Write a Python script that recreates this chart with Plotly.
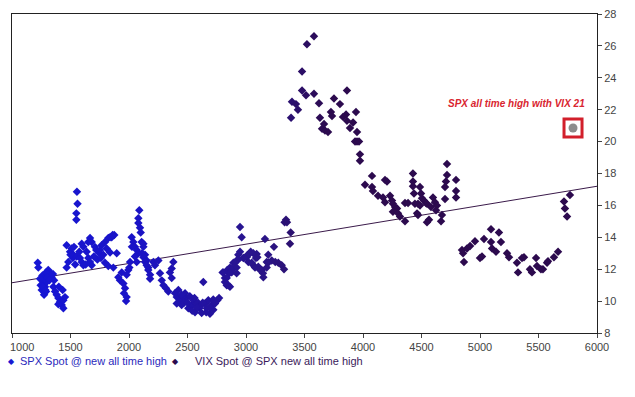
import plotly.graph_objects as go

# SPX level at new all-time high (x) and VIX spot at that time (y)
spx_level = [
    1220, 1225, 1254, 1268, 1282, 1254, 1296, 1310, 1330, 1339, 1274, 1291, 1353, 1368, 1382, 1396,
    1410, 1425, 1439, 1453, 1439, 1396, 1433, 1260, 1275, 1290, 1245, 1262, 1300, 1320, 1240, 1285,
    1350, 1360, 1400,
    1555, 1560, 1550, 1550,
    1467, 1481, 1496, 1510, 1524, 1520, 1553, 1581, 1596, 1610, 1596, 1610, 1652, 1667, 1681, 1667,
    1681, 1709, 1720, 1746, 1766, 1795, 1823, 1852, 1874, 1809, 1838, 1780, 1795, 1823, 1866, 1895,
    1467, 1638, 1500, 1530, 1540, 1575, 1630, 1700, 1730, 1760, 1652, 1752, 1838, 1860,
    1923, 1909, 1938, 1952, 1966, 1957, 1980, 1994, 1980, 2003, 2009, 1975,
    2023, 2037, 2051, 2066, 2080, 2025, 2051, 2066, 2088, 2080, 2080, 2094, 2100, 2108, 2123, 2137,
    2151, 2165,
    2123, 2110, 2123, 2137, 2151, 2165, 2180, 2180, 2208, 2222, 2251, 2265, 2280, 2294, 2316, 2336,
    2350, 2365, 2365, 2379, 2393, 2408, 2422, 2436, 2408, 2450, 2479, 2490, 2507, 2536, 2550, 2564,
    2578, 2601, 2621, 2635, 2650, 2664, 2678, 2692, 2706, 2721, 2735, 2755, 2770,
    2460, 2470, 2520, 2540, 2560, 2590, 2610, 2630, 2660, 2690, 2720, 2500, 2450, 2580,
    2800, 2820, 2835, 2840, 2863, 2878, 2892, 2920, 2934, 2949, 2949, 2963, 2920, 2977, 3006, 3020,
    3034, 3063, 3085, 3105, 3134, 3162, 3177, 3190,
    3342, 3330, 3350, 3382, 3376, 3239, 3220, 3250, 3276, 3305, 3325, 3190, 3177, 3148, 3145, 3120,
    3091, 3063, 3040, 3006, 2983, 3049, 3077, 3097, 2934, 2906, 2892, 2920, 2878, 2857, 2835, 2820,
    2849, 2806, 2863,
    3581, 3521, 3479, 3479, 3513, 3581, 3393, 3427, 3444, 3385, 3624, 3632, 3752, 3863, 3803, 3726,
    3735, 3650, 3675, 3701, 3667, 3829, 3855, 3863, 3940, 3889, 3915, 3949, 3949, 3974,
    3932, 3966, 3974, 4077, 4017, 4077, 4085, 4128, 4171, 4188, 4205, 4188, 4231, 4248, 4256, 4274,
    4291, 4256, 4299, 4316, 4359, 4359, 4385, 4427, 4427, 4427, 4487, 4436, 4496, 4444, 4470, 4504,
    4521, 4538, 4547, 4462, 4470, 4487, 4547, 4564, 4581, 4598, 4615, 4632, 4624, 4667, 4675, 4701,
    4701, 4709, 4718, 4718, 4795, 4795, 4795,
    4846, 4855, 4863, 4889, 4915, 4957, 5000, 5017, 5034, 5094, 5094, 5103, 5137, 5162, 5179, 5231,
    5248, 5316, 5325, 5359, 5376, 5427, 5444, 5479, 5487, 5521, 5538, 5573, 5581, 5632, 5667, 5718,
    5726, 5744, 5769,
]
vix_level = [
    12.4, 12.1, 11.32, 11.1, 10.9, 10.7, 11.2, 11.95, 11.75, 11.5, 10.4, 10.6, 10.9, 10.6, 10.4, 10.2,
    9.95, 9.75, 10.05, 10.25, 9.55, 9.8, 10.7, 11.6, 11.4, 11.8, 11.0, 10.9, 11.5, 11.3, 11.4, 10.7,
    11.7, 11.3, 10.9,
    16.85, 16.1, 15.5, 15.1,
    12.1, 12.45, 13.1, 13.3, 12.9, 12.7, 12.8, 12.7, 12.45, 12.25, 13.6, 13.4, 12.7, 12.45, 12.25, 13.95,
    13.7, 13.4, 13.2, 13.0, 13.5, 13.7, 13.95, 14.0, 14.15, 13.3, 13.05, 12.9, 12.4, 12.2, 12.1, 13.0,
    13.5, 13.1, 12.9, 13.4, 12.3, 13.1, 12.3, 12.8, 12.6, 12.7, 13.7, 13.2, 14.0, 14.15,
    11.3, 11.5, 11.8, 11.1, 10.8, 10.5, 10.25, 11.95, 11.65, 12.1, 12.45, 10.0,
    14.0, 13.7, 13.4, 13.2, 13.0, 13.4, 12.8, 12.45, 15.7, 15.2, 14.9, 14.6, 14.3, 13.7, 13.4, 12.9,
    12.55, 12.1,
    13.6, 13.0, 12.75, 12.45, 12.25, 11.95, 11.65, 11.4, 12.45, 12.25, 12.55, 11.75, 11.3, 11.0, 10.8, 10.6,
    11.8, 12.05, 11.45, 12.45, 10.5, 10.25, 10.7, 10.05, 9.85, 9.75, 10.5, 10.2, 9.55, 9.75, 10.05, 9.3,
    9.85, 9.55, 9.25, 11.2, 9.85, 9.55, 10.05, 9.2, 9.75, 9.45, 9.85, 10.05, 10.2,
    10.3, 9.9, 10.3, 9.4, 10.2, 9.9, 9.7, 9.9, 9.3, 9.6, 10.1, 9.9, 10.4, 9.6,
    11.8, 11.45, 11.0, 11.95, 12.1, 11.8, 12.4, 12.55, 12.9, 13.1, 14.65, 14.0, 11.75, 12.7, 12.75, 12.45,
    13.0, 12.25, 12.7, 12.15, 11.95, 13.9, 12.45, 12.9,
    15.1, 14.95, 14.95, 14.3, 13.6, 13.4, 12.55, 12.45, 12.4, 12.25, 12.0, 12.4, 12.1, 11.5, 11.75, 11.95,
    12.95, 13.0, 13.1, 12.85, 12.7, 12.4, 12.1, 12.75, 12.6, 12.4, 12.1, 12.1, 11.95, 11.75, 11.45, 11.2,
    11.0, 11.8, 10.9,
    26.6, 26.1, 24.4, 23.2, 22.9, 23.0, 22.5, 22.35, 22.0, 21.5, 22.4, 21.5, 22.7, 23.2, 22.35, 21.85,
    21.6, 20.8, 20.7, 20.6, 21.1, 21.55, 21.7, 21.3, 21.85, 20.85, 21.2, 20.6, 20.0, 19.2,
    20.0, 20.0, 18.8, 17.85, 17.3, 17.15, 16.9, 16.6, 16.5, 17.6, 17.5, 16.2, 16.6, 16.3, 16.1, 15.9,
    15.8, 15.6, 15.5, 15.3, 15.0, 16.15, 16.15, 18.0, 17.5, 17.2, 17.15, 16.75, 16.75, 16.1, 16.1, 16.45,
    16.3, 16.15, 16.1, 15.5, 15.4, 16.0, 14.95, 15.1, 15.9, 16.5, 16.2, 16.0, 15.7, 15.0, 15.4, 16.4,
    17.15, 17.5, 17.9, 18.6, 17.6, 16.9, 16.5,
    13.2, 13.0, 12.45, 13.3, 13.45, 13.75, 12.7, 12.8, 13.9, 14.5, 13.7, 13.3, 13.1, 14.3, 13.7, 13.0,
    12.75, 12.4, 11.8, 12.7, 12.75, 12.0, 11.8, 12.7, 12.2, 12.0, 12.0, 12.4, 12.5, 12.75, 13.1, 16.25,
    15.8, 15.3, 16.65,
]

trend_x = [1000, 6000]
trend_y = [11.15, 17.2]

highlight_x = [5795]
highlight_y = [20.85]
highlight_label = "SPX all time high with VIX 21"
label_x = [5308]
label_y = [22.4]

legend_names = ["SPX Spot @ new all time high", "VIX Spot @ SPX new all time high"]
legend_colors = ["#2a2abc", "#3a1a5a"]
marker_colors = ["#1818d2", "#2c0a4e"]
x_ticks = [1000, 1500, 2000, 2500, 3000, 3500, 4000, 4500, 5000, 5500, 6000]
y_ticks = [8, 10, 12, 14, 16, 18, 20, 22, 24, 26, 28]

fig = go.Figure()

fig.add_trace(go.Scatter(
    x=trend_x, y=trend_y, mode="lines",
    line=dict(color="#3a1a4a", width=1), showlegend=False, hoverinfo="skip"))

fig.add_trace(go.Scatter(
    x=spx_level, y=vix_level, mode="markers", showlegend=False,
    name="SPX ATH vs VIX",
    marker=dict(symbol="diamond", size=6.5, color=spx_level, cmin=1200, cmax=3700,
                colorscale=[[0, "#1616d4"], [0.35, "#1a13c6"], [0.55, "#2213a4"],
                            [0.8, "#2b1484"], [1, "#2c0a4e"]],
                line=dict(width=0))))

fig.add_trace(go.Scatter(
    x=highlight_x, y=highlight_y, mode="markers", showlegend=False,
    marker=dict(symbol="circle", size=9, color="#8c8c8c")))
fig.add_trace(go.Scatter(
    x=highlight_x, y=highlight_y, mode="markers", showlegend=False,
    marker=dict(symbol="square-open", size=18, color="#d21f2b",
                line=dict(width=3, color="#d21f2b"))))

fig.add_annotation(
    x=label_x[0], y=label_y[0], text="<b><i>" + highlight_label + "</i></b>",
    showarrow=False, font=dict(family="Liberation Sans", size=10, color="#d9252f"))

# first x tick label placed as annotation so it stays inside the page edge
tick_text = ["" if v == x_ticks[0] else str(v) for v in x_ticks]
fig.add_annotation(
    xref="paper", yref="paper", x=0, y=-0.044, xanchor="left", yanchor="middle",
    xshift=-4, text=str(x_ticks[0]), showarrow=False,
    font=dict(family="Liberation Sans", size=11, color="#444"))

# legend (drawn as text so spacing matches the original)
legend_y = -0.088
for mx, tx, name, tc, mc in [(-0.001, 0.0105, legend_names[0], legend_colors[0], marker_colors[0]),
                             (0.280, 0.3094, legend_names[1], legend_colors[1], marker_colors[1])]:
    fig.add_annotation(xref="paper", yref="paper", x=mx, y=legend_y, xanchor="center",
                       yanchor="middle", text="\u25c6", showarrow=False,
                       font=dict(family="DejaVu Sans", size=8, color=mc))
    fig.add_annotation(xref="paper", yref="paper", x=tx, y=legend_y, xanchor="left",
                       yanchor="middle", text=name, showarrow=False,
                       font=dict(family="Liberation Sans", size=11, color=tc))

fig.update_layout(
    width=635, height=397,
    margin=dict(l=4, r=46, t=6, b=72, autoexpand=False),
    paper_bgcolor="white", plot_bgcolor="white",
    font=dict(family="Liberation Sans", size=11, color="#444"),
    showlegend=False,
    xaxis=dict(range=[1000, 6000], tickvals=x_ticks, ticktext=tick_text, showgrid=False,
               zeroline=False, showline=True, linecolor="#222", linewidth=1, mirror=True,
               automargin=False, ticklabeloverflow="allow",
               ticks="outside", ticklen=4, tickcolor="#444"),
    yaxis=dict(range=[8, 28], tickvals=y_ticks, side="right", showgrid=False,
               zeroline=False, showline=True, linecolor="#222", linewidth=1, mirror=True,
               automargin=False, ticklabeloverflow="allow",
               ticks="outside", ticklen=4, tickcolor="#444"),
)

fig.write_html("out.html")
